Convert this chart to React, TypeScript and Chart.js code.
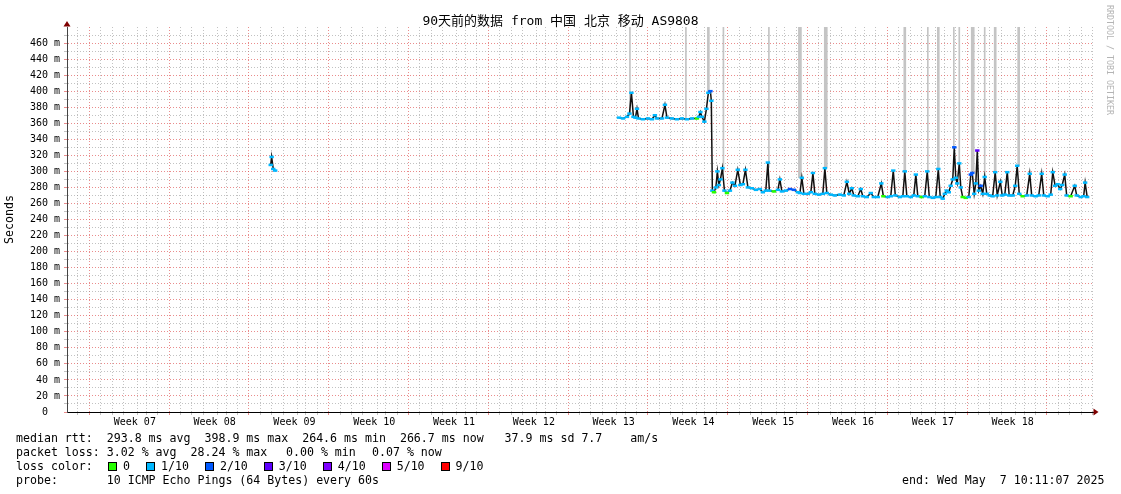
import React, { useEffect, useRef } from 'react';
import { Chart, registerables } from 'chart.js';

Chart.register(...registerables);

const TITLE = '90天前的数据 from 中国 北京 移动 AS9808';
const Y_AXIS_TITLE = 'Seconds';
const WATERMARK = 'RRDTOOL / TOBI OETIKER';
const WEEK_LABELS = ['Week 07', 'Week 08', 'Week 09', 'Week 10', 'Week 11', 'Week 12', 'Week 13', 'Week 14', 'Week 15', 'Week 16', 'Week 17', 'Week 18'];
const RANGE_DAYS = 90;
const FIRST_WEEK_LINE_DAY = 2.45;
const Y_MAX = 480;

const MEDIAN_LINE = 'median rtt:  293.8 ms avg  398.9 ms max  264.6 ms min  266.7 ms now   37.9 ms sd 7.7    am/s';
const LOSS_STAT_PARTS = ['packet loss: 3.02 % avg  28.24 % max', '0.00 % min', '0.07 % now'];
const LOSS_TITLE = 'loss color:';
const LOSS_LABELS = ['0', '1/10', '2/10', '3/10', '4/10', '5/10', '9/10'];
const LOSS_COLORS = ['#26ff00', '#00b8ff', '#0059ff', '#5e00ff', '#7e00ff', '#dd00ff', '#ff0000'];
const PROBE_LINE = 'probe:       10 ICMP Echo Pings (64 Bytes) every 60s';
const END_LINE = 'end: Wed May  7 10:11:07 2025';

// median rtt samples: time in days since graph start, value in ms (null = no data), loss bucket index
const rttTimes = [
  17.87, 17.95, 18.09, 18.26, 30.0,
  48.42, 48.77, 49.12, 49.34, 49.51, 49.69, 49.86, 50.0, 50.13, 50.52, 50.96, 51.31, 51.57, 51.75, 52.19, 52.45,
  52.63, 53.06, 53.5, 53.94, 54.38, 54.82, 55.26, 55.43, 55.56, 55.69, 55.91, 56.09, 56.26, 56.44, 56.52, 56.61,
  56.75, 56.92, 57.05, 57.18, 57.32, 57.49, 57.67, 57.89, 58.15, 58.37, 58.59, 58.84, 59.07, 59.29, 59.51, 59.73,
  60.08, 60.43, 60.78, 61.04, 61.3, 61.48, 61.61, 62.01, 62.36, 62.53, 62.71, 63.06, 63.41, 63.76, 64.11, 64.29,
  64.46, 64.64, 64.99, 65.25, 65.43, 65.6, 65.95, 66.3, 66.48, 66.65, 67.0, 67.35, 67.79, 68.14, 68.41, 68.62,
  68.84, 69.02, 69.37, 69.63, 69.81, 70.16, 70.51, 70.77, 71.12, 71.43, 71.61, 72.0, 72.26, 72.48, 72.66, 73.05,
  73.32, 73.49, 73.67, 74.02, 74.28, 74.46, 74.63, 74.98, 75.24, 75.46, 75.64, 75.95, 76.21, 76.43, 76.6, 76.82,
  77.0, 77.17, 77.35, 77.52, 77.7, 77.83, 77.96, 78.09, 78.27, 78.4, 78.57, 78.84, 79.1, 79.28, 79.41, 79.58,
  79.72, 79.85, 79.98, 80.15, 80.33, 80.5, 80.68, 80.94, 81.2, 81.42, 81.6, 81.87, 82.04, 82.26, 82.48, 82.65,
  82.96, 83.18, 83.35, 83.53, 83.83, 84.19, 84.45, 84.62, 84.97, 85.24, 85.5, 85.68, 86.03, 86.29, 86.47, 86.68,
  86.9, 87.12, 87.3, 87.52, 87.69, 88.04, 88.4, 88.57, 88.92, 89.18, 89.31, 89.49,
];
const rttValues = [
  308, 318, 303, 301, null,
  367, 366, 368, 372, 398, 368, 367, 378, 366, 365, 366, 365, 370, 366, 366, 383,
  367, 366, 365, 366, 365, 366, 366, 368, 374, 368, 362, 378, 398, 400, 388, 276,
  274, 280, 300, 283, 290, 304, 276, 273, 276, 286, 282, 302, 283, 284, 302, 280,
  279, 277, 278, 274, 276, 311, 276, 275, 277, 290, 275, 276, 278, 277, 274, 273,
  292, 272, 272, 274, 298, 272, 271, 272, 304, 273, 271, 270, 271, 270, 287, 272,
  279, 270, 269, 278, 269, 268, 273, 268, 268, 285, 269, 268, 269, 301, 270, 268,
  269, 300, 269, 268, 270, 296, 269, 268, 269, 300, 268, 267, 268, 303, 268, 266,
  272, 276, 274, 282, 290, 330, 292, 285, 310, 280, 268, 267, 268, 296, 298, 272,
  285, 326, 276, 282, 272, 293, 272, 270, 269, 299, 270, 287, 270, 271, 299, 270,
  270, 282, 307, 272, 269, 270, 297, 270, 269, 270, 297, 270, 269, 271, 299, 282,
  284, 278, 283, 296, 270, 269, 282, 270, 268, 269, 286, 268,
];
const rttLoss = [
  1, 1, 1, 1, 1,
  1, 1, 1, 1, 1, 1, 1, 1, 1, 1, 1, 1, 1, 1, 1, 1,
  1, 1, 1, 1, 1, 1, 0, 1, 1, 1, 1, 1, 1, 2, 1, 1,
  0, 1, 1, 1, 1, 1, 1, 0, 1, 1, 1, 1, 1, 1, 1, 1,
  1, 1, 1, 1, 1, 1, 1, 0, 1, 1, 1, 1, 2, 2, 1, 1,
  1, 1, 1, 1, 1, 1, 1, 1, 1, 1, 1, 1, 1, 1, 1, 1,
  1, 1, 1, 1, 1, 1, 1, 1, 1, 1, 0, 1, 1, 1, 1, 1,
  1, 1, 1, 1, 1, 1, 1, 0, 1, 1, 1, 1, 1, 1, 1, 1,
  1, 1, 1, 1, 1, 2, 1, 1, 1, 1, 0, 0, 1, 2, 2, 1,
  1, 3, 1, 2, 1, 1, 1, 1, 1, 1, 1, 1, 1, 1, 1, 1,
  1, 1, 1, 1, 0, 1, 1, 1, 1, 1, 1, 1, 1, 1, 1, 1,
  1, 1, 1, 1, 1, 0, 1, 1, 1, 1, 1, 1,
];

// smoke columns that run off the top of the scale (time in days, lower edge in ms)
const smokeThinTimes = [49.38, 54.29, 57.58, 61.57, 75.51, 77.79, 78.27, 80.5];
const smokeThinLow = [372, 366, 300, 305, 300, 330, 310, 293];
const smokeMidTimes = [56.26, 73.49, 76.43, 81.42, 83.48];
const smokeMidLow = [398, 300, 303, 299, 307];
const smokeWideTimes = [64.29, 66.56, 79.45];
const smokeWideLow = [292, 304, 298];

const MONO = "'DejaVu Sans Mono', 'Noto Sans CJK SC', monospace";
const GRID_GRAY = 'rgba(143,143,143,0.55)';
const GRID_RED = 'rgba(222,79,79,0.65)';
const CLEAR = 'rgba(0,0,0,0)';

const key = (v: number) => v.toFixed(3);
const dayLines: number[] = [];
for (let d = FIRST_WEEK_LINE_DAY % 1; d < RANGE_DAYS; d += 1) dayLines.push(+d.toFixed(3));
const weekLabelDays = WEEK_LABELS.map((_, k) => +(FIRST_WEEK_LINE_DAY + 3.5 + 7 * k).toFixed(3));
const labelMap = new Map<string, string>(weekLabelDays.map((d, k) => [key(d), WEEK_LABELS[k]]));
const xTickValues = [...dayLines, ...weekLabelDays].sort((a, b) => a - b);
const isWeekLine = (v: number) => {
  const r = (((v - FIRST_WEEK_LINE_DAY) % 7) + 7) % 7;
  return r < 0.01 || r > 6.99;
};
const yTickValues: number[] = [];
for (let v = 0; v <= Y_MAX; v += 10) yTickValues.push(v);

const xGridColor = (ctx: any) => {
  const v = ctx.tick ? ctx.tick.value : NaN;
  if (labelMap.has(key(v))) return CLEAR;
  return isWeekLine(v) ? GRID_RED : GRID_GRAY;
};
const yGridColor = (ctx: any) => {
  const v = ctx.tick ? ctx.tick.value : NaN;
  if (v >= Y_MAX) return CLEAR;
  return v % 20 === 0 ? GRID_RED : GRID_GRAY;
};

const arrowPlugin = {
  id: 'axisArrows',
  afterDraw(chart: any) {
    const { ctx, chartArea: a } = chart;
    ctx.save();
    ctx.fillStyle = '#7f0000';
    ctx.beginPath();
    ctx.moveTo(a.left - 3.5, a.top - 0.5);
    ctx.lineTo(a.left + 3.5, a.top - 0.5);
    ctx.lineTo(a.left, a.top - 6);
    ctx.closePath();
    ctx.fill();
    ctx.beginPath();
    ctx.moveTo(a.right + 0.5, a.bottom - 3.5);
    ctx.lineTo(a.right + 0.5, a.bottom + 3.5);
    ctx.lineTo(a.right + 5.5, a.bottom);
    ctx.closePath();
    ctx.fill();
    ctx.restore();
  },
};

const smokeDataset = (times: number[], lows: number[], thickness: number) => ({
  type: 'bar' as const,
  data: times.map((t, i) => ({ x: t, y: [lows[i], Y_MAX] })),
  backgroundColor: '#c4c4c4',
  borderWidth: 0,
  barThickness: thickness,
  grouped: false,
  order: 10,
});

export default function App() {
  const ref = useRef<HTMLCanvasElement>(null);

  useEffect(() => {
    const points = rttTimes.map((t, i) => ({ x: t, y: rttValues[i] }));
    const chart = new Chart(ref.current as HTMLCanvasElement, {
      type: 'line',
      data: {
        datasets: [
          smokeDataset(smokeThinTimes, smokeThinLow, 1),
          smokeDataset(smokeMidTimes, smokeMidLow, 2),
          smokeDataset(smokeWideTimes, smokeWideLow, 3),
          {
            type: 'line',
            data: points,
            borderColor: '#111111',
            borderWidth: 1.5,
            pointRadius: 0,
            spanGaps: false,
            tension: 0,
            order: 2,
          },
          {
            type: 'line',
            data: points,
            showLine: false,
            pointStyle: 'line',
            pointRadius: 2.2,
            pointBorderWidth: 2.5,
            pointBorderColor: (ctx: any) => LOSS_COLORS[rttLoss[ctx.dataIndex]] || LOSS_COLORS[1],
            pointBackgroundColor: (ctx: any) => LOSS_COLORS[rttLoss[ctx.dataIndex]] || LOSS_COLORS[1],
            order: 1,
          },
        ] as any,
      },
      options: {
        animation: false,
        responsive: false,
        maintainAspectRatio: false,
        events: [],
        layout: { padding: { left: 0, top: 27, right: 28, bottom: 0 } },
        plugins: {
          legend: { display: false },
          title: { display: false },
          tooltip: { enabled: false },
        },
        scales: {
          x: {
            type: 'linear',
            min: 0,
            max: RANGE_DAYS,
            offset: false,
            afterBuildTicks: (scale: any) => {
              scale.ticks = xTickValues.map((v) => ({ value: v }));
            },
            afterFit: (scale: any) => {
              scale.height = 82;
            },
            ticks: {
              autoSkip: false,
              maxRotation: 0,
              minRotation: 0,
              padding: 1,
              color: '#000',
              font: { family: MONO, size: 10 },
              callback: (v: any) => labelMap.get(key(Number(v))) || '',
            },
            grid: {
              color: xGridColor,
              tickColor: xGridColor,
              lineWidth: 1,
              tickLength: 3,
              drawTicks: true,
            },
            border: { display: true, color: '#000', width: 1, dash: [1, 2] },
          },
          y: {
            type: 'linear',
            min: 0,
            max: Y_MAX,
            afterBuildTicks: (scale: any) => {
              scale.ticks = yTickValues.map((v) => ({ value: v }));
            },
            afterFit: (scale: any) => {
              scale.width = 67;
            },
            ticks: {
              autoSkip: false,
              padding: 4,
              color: '#000',
              font: { family: MONO, size: 10 },
              callback: (v: any) => {
                const n = Number(v);
                if (n >= Y_MAX || n % 20 !== 0) return '';
                return n === 0 ? '0  ' : `${n} m`;
              },
            },
            grid: {
              color: yGridColor,
              tickColor: yGridColor,
              lineWidth: 1,
              tickLength: 3,
              drawTicks: true,
            },
            border: { display: true, color: '#444', width: 1, dash: [1, 2] },
            title: {
              display: true,
              text: Y_AXIS_TITLE,
              color: '#000',
              font: { family: MONO, size: 11.6 },
              padding: { top: 3, bottom: 0 },
            },
          },
        },
      } as any,
      plugins: [arrowPlugin],
    });
    return () => chart.destroy();
  }, []);

  const textFont = `11.6px ${MONO}`;
  const lineStyle = (top: number, left = 16): React.CSSProperties => ({
    position: 'absolute',
    left,
    top,
    font: textFont,
    lineHeight: '14px',
    whiteSpace: 'pre',
    color: '#000',
  });

  return (
    <div style={{ position: 'absolute', left: 0, top: 0, width: 1121, height: 494, background: '#fff', overflow: 'hidden' }}>
      <canvas ref={ref} width={1121} height={494} style={{ position: 'absolute', left: 0, top: 0, width: 1121, height: 494 }} />
      <div
        style={{
          position: 'absolute',
          left: 0,
          top: 13,
          width: 1121,
          textAlign: 'center',
          font: `13px ${MONO}`,
          lineHeight: '16px',
          whiteSpace: 'pre',
          color: '#000',
        }}
      >
        {TITLE}
      </div>
      <div
        style={{
          position: 'absolute',
          left: 1105,
          top: 5,
          writingMode: 'vertical-rl',
          font: `8.3px ${MONO}`,
          color: '#b4b4b4',
          whiteSpace: 'pre',
        }}
      >
        {WATERMARK}
      </div>
      <div style={lineStyle(431)}>{MEDIAN_LINE}</div>
      <div style={lineStyle(445)}>{LOSS_STAT_PARTS[0]}</div>
      <div style={lineStyle(445, 286)}>{LOSS_STAT_PARTS[1]}</div>
      <div style={lineStyle(445, 372)}>{LOSS_STAT_PARTS[2]}</div>
      <div style={{ ...lineStyle(459), display: 'flex', alignItems: 'center' }}>
        <span style={{ width: 92 }}>{LOSS_TITLE}</span>
        {LOSS_LABELS.map((label, i) => (
          <span key={label} style={{ display: 'flex', alignItems: 'center', marginRight: 16 }}>
            <span
              style={{
                display: 'inline-block',
                width: 9,
                height: 9,
                boxSizing: 'border-box',
                border: '1px solid #000',
                background: LOSS_COLORS[i],
                marginRight: 6,
              }}
            />
            <span>{label}</span>
          </span>
        ))}
      </div>
      <div style={lineStyle(473)}>{PROBE_LINE}</div>
      <div style={lineStyle(473, 902)}>{END_LINE}</div>
    </div>
  );
}
